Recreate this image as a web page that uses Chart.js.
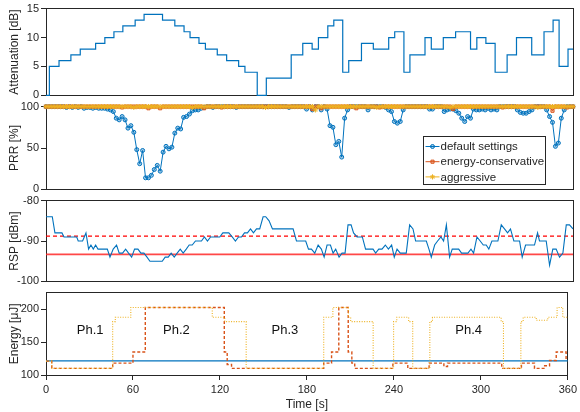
<!DOCTYPE html>
<html>
<head>
<meta charset="utf-8">
<script src="https://cdn.jsdelivr.net/npm/chart.js@4.4.1/dist/chart.umd.min.js"></script>
<style>
  html, body { margin: 0; padding: 0; background: #fff; }
  #wrap { position: relative; width: 580px; height: 412px; overflow: hidden; }
  #wrap canvas { position: absolute; left: 0; }
</style>
</head>
<body>
<div id="wrap">
  <canvas id="cAtt" width="580" height="104" style="top:0px"></canvas>
  <canvas id="cPrr" width="580" height="100" style="top:98px"></canvas>
  <canvas id="cRsp" width="580" height="98" style="top:192px"></canvas>
  <canvas id="cEng" width="580" height="128" style="top:284px"></canvas>
</div>
<script>
// ---------- attenuation schedule (time of change [s], level [dB]) ----------
const attTime  = [0, 2.3, 8.9, 17, 23.4, 33.9, 40.2, 46.4, 52.5, 60.9, 67, 79.6, 88, 94.3, 98.4, 104.5, 108.9, 117, 123.4, 131.6, 135.9, 144.3, 150.5, 167.5, 175.4, 181.8, 186.1, 192.5, 196.6, 202.7, 206.8, 215.5, 223.6, 234.1, 238.2, 244.5, 248.6, 258.9, 263.2, 271.4, 279.8, 290, 294.3, 300.5, 306.8, 315, 321.4, 331.8, 340.2, 346.4, 350.5, 356.6, 360];
const attValue = [0, 5, 6, 7, 8, 9, 10, 11, 12, 13, 14, 13, 12, 11, 10, 9, 8, 7, 6, 5, 4, 0, 3, 7, 9, 8, 10, 12, 13, 4, 6, 9, 8, 10, 11, 4, 7, 10, 8, 10, 11, 8, 10, 9, 4, 7, 10, 7, 11, 13, 5, 8, 8];

// ---------- packet reception ratio [%] ----------
const prrTime = [0,2,4,6,8,10,12,14,16,18,20,22,24,26,28,30,32,34,36,38,40,42,44,46,48,50,52,54,56,58,60,62,64,66,68,70,72,74,76,78,80,82,84,86,88,90,92,94,96,98,100,102,104,106,108,110,112,114,116,118,120,122,124,126,128,130,132,134,136,138,140,142,144,146,148,150,152,154,156,158,160,162,164,166,168,170,172,174,176,178,180,182,184,186,188,190,192,194,196,198,200,202,204,206,208,210,212,214,216,218,220,222,224,226,228,230,232,234,236,238,240,242,244,246,248,250,252,254,256,258,260,262,264,266,268,270,272,274,276,278,280,282,284,286,288,290,292,294,296,298,300,302,304,306,308,310,312,314,316,318,320,322,324,326,328,330,332,334,336,338,340,342,344,346,348,350,352,354,356,358,360];
const prrDefault = [
  100,100,100,100,100,100,100,99,100,99,
  100,99,100,98,99,99,98,99,98,98,
  98,97,96,94,86,84,88,84,74,77,
  69,48,31,47,14,14,17,24,29,22,
  45,52,49,51,68,74,73,87,88,91,
  95,96,96,98,99,100,100,99,100,100,
  100,100,100,100,100,99,100,100,100,100,
  100,100,100,100,100,100,100,100,100,100,
  100,100,100,99,100,100,100,100,100,97,
  100,96,100,100,96,100,97,77,75,54,
  58,39,86,96,100,100,100,100,100,100,
  96,100,100,100,100,100,99,96,94,82,
  80,82,96,100,100,100,100,100,100,100,
  100,97,97,100,100,100,94,96,97,97,
  95,92,86,82,88,86,97,96,96,97,
  96,98,96,97,96,100,100,100,100,100,
  100,96,93,92,92,94,96,100,100,100,
  100,96,88,81,52,56,86,96,100,100,
  100];
const prrConservative = [
  100,100,100,100,100,100,100,100,100,100,
  100,100,100,100,100,100,100,100,100,100,
  100,100,100,100,100,100,99,100,100,100,
  100,100,100,100,100,98,100,100,100,98,
  100,100,100,100,100,100,100,100,100,100,
  100,100,100,100,98,100,100,100,100,100,
  99,100,100,100,100,100,100,100,100,100,
  100,100,100,100,100,100,100,100,100,100,
  100,100,100,100,100,100,100,100,100,100,
  100,97,100,100,98,100,100,100,100,100,
  100,100,100,100,100,100,98,100,100,100,
  100,100,100,100,99,100,100,100,100,100,
  100,100,100,100,100,100,100,100,100,100,
  100,100,100,100,100,100,100,100,100,97,
  100,100,100,100,100,100,100,100,100,100,
  100,100,100,100,100,100,99,100,100,100,
  100,100,100,100,100,100,100,100,100,100,
  100,100,100,95,100,100,100,100,99,100,
  100];
const prrAggressive = [
  100,100,100,100,100,100,100,100,100,100,
  100,100,100,100,100,100,100,100,100,100,
  100,100,100,100,100,100,100,100,100,100,
  99,100,100,100,100,100,100,100,100,100,
  100,100,100,100,100,100,100,100,100,100,
  99,100,100,100,100,100,100,100,100,100,
  100,100,100,100,100,100,100,100,100,100,
  100,100,100,100,100,99,100,100,100,100,
  100,100,100,100,100,100,100,100,100,100,
  100,100,96,100,100,100,100,100,100,100,
  100,100,100,100,100,100,100,100,100,100,
  100,100,100,99,100,100,100,100,100,100,
  100,100,100,100,100,100,100,100,100,100,
  100,100,100,100,100,100,100,100,99,100,
  100,100,100,100,100,100,100,100,100,100,
  100,100,100,100,100,100,100,100,100,100,
  100,100,100,100,100,100,100,100,99,100,
  100,100,100,100,100,100,100,100,100,100,
  100];

// ---------- received signal power [dBm] ----------
const rspTime  = [0, 4.3, 6.1, 10.9, 12.3, 21, 22, 25, 27.3, 29.1, 30.7, 32.3, 33.9, 35.5, 41.9, 43.7, 45.9, 48.2, 50, 52.3, 54.4, 56.4, 58.5, 60.5, 62.8, 64.8, 66.9, 69, 71, 79.4, 81.4, 83.5, 85.5, 87.6, 89.6, 91.7, 93.7, 95.8, 97.8, 99.9, 102.1, 106.2, 108.2, 110.3, 112.4, 118.7, 120.8, 124.9, 127.2, 129.4, 131.5, 133.5, 135.6, 137.6, 139.7, 141.7, 143.8, 146, 148.3, 150.1, 152.4, 154.7, 168.8, 171.1, 177.4, 179.3, 181.3, 183.6, 185.9, 188.1, 190, 192, 194.3, 196.1, 197.9, 200.2, 202.2, 204.3, 206.3, 208.4, 210.1, 212.5, 216.1, 218.3, 223.4, 225.2, 227.3, 229.5, 231.8, 233.9, 236.1, 237.9, 239.8, 242, 246.1, 248.4, 250.7, 252.5, 259.8, 261.6, 263.2, 265.5, 267.5, 269.8, 271.6, 273.5, 275.7, 277.5, 281.9, 283.9, 285.9, 288.2, 290.3, 292.1, 294.4, 296.6, 298.7, 300.7, 302.5, 304.6, 308.7, 311, 313.2, 315.3, 317.3, 319.6, 323.5, 325.3, 327.6, 333.7, 335.8, 337.1, 341.7, 344, 346.2, 348.5, 350.8, 353.1, 355.4, 357.6, 360];
const rspValue = [-84, -84, -88, -88, -89, -89, -90, -90, -88, -92, -91, -92, -91, -92, -92, -94, -92, -91, -93, -93, -92, -93, -94, -92, -92, -93, -93, -94, -95, -95, -94, -94, -93, -94, -93, -92, -93, -92, -91, -91, -90, -90, -89, -90, -89, -89, -88, -88, -89, -90, -89, -89, -88, -88, -87, -88, -87, -87, -84, -84, -85, -87, -87, -90, -90, -92, -92, -93, -91, -92, -94, -91, -91, -93, -92, -94, -93, -93, -86, -86, -88, -89, -89, -92, -92, -93, -92, -92, -91, -92, -91, -94, -92, -93, -93, -86, -87, -90, -90, -92, -94, -91, -90, -89, -90, -86, -94, -92, -92, -93, -93, -93, -92, -93, -89, -90, -91, -91, -92, -90, -90, -86, -87, -88, -87, -90, -90, -94, -91, -91, -88, -90, -90, -96, -92, -92, -94, -93, -86, -86, -87];
const rspUpper = -88.8;   // dashed reference level
const rspLower = -93.3;   // solid reference level

// ---------- energy per packet [µJ] ----------
const engDefaultTime  = [0, 360];
const engDefaultValue = [121.5, 121.5];
const engConsTime  = [0, 4, 46, 60, 68.5, 123, 125, 128, 191.6, 197, 202, 208.5, 211, 213, 239.3, 249.6, 264.3, 274.5, 277, 314.4, 328, 337, 344, 347.4, 352, 358.8, 360];
const engConsValue = [121, 110, 118, 135, 202.5, 135, 116, 110, 118, 135, 202.5, 135, 118, 110, 118, 110, 118, 113, 118, 110, 118, 110, 114, 122, 135, 124, 124];
const engAggrTime  = [0, 4, 46, 47.8, 58.5, 114.7, 123.3, 138.1, 191.6, 197.9, 208.6, 210.2, 225.7, 239.8, 242, 250.2, 253, 264.8, 266.6, 314, 315.6, 327.6, 329.2, 338.2, 346.2, 352.6, 356.5, 360];
const engAggrValue = [121, 110, 181, 187.5, 202.5, 187.5, 181, 110, 187.5, 202.5, 187.5, 181, 110, 181, 187.5, 181, 110, 181, 187.5, 181, 110, 181, 187.5, 183, 187.5, 202.5, 187.5, 187.5];

// phase annotations: [text, time, energy]
const phaseLabels = [['Ph.1', 30.5, 168], ['Ph.2', 90, 168], ['Ph.3', 164.8, 168], ['Ph.4', 291.6, 168]];

// ---------- axis ticks ----------
const attTicks = [0, 5, 10, 15];
const prrTicks = [0, 50, 100];
const rspTicks = [-100, -90, -80];
const engTicks = [100, 150, 200];
const timeTicks = [0, 60, 120, 180, 240, 300, 360];

// ---------- styling ----------
const INK = '#262626';
const BLUE = '#0072BD';
const ORANGE = '#D95319';
const YELLOW = '#EDB120';
Chart.defaults.font.family = "'Liberation Sans', Arial, Helvetica, sans-serif";
Chart.defaults.color = INK;
Chart.defaults.animation = false;

const pts = (xs, ys) => xs.map((x, i) => ({ x: x, y: ys[i] }));

function alignPx(p) { return Math.round(p - 0.5) + 0.5; }

// axes box drawn beneath the data
const framePlugin = {
  id: 'frame',
  beforeDatasetsDraw(chart) {
    const a = chart.chartArea, ctx = chart.ctx;
    ctx.save();
    ctx.strokeStyle = INK;
    ctx.lineWidth = 1;
    const l = alignPx(a.left), r = alignPx(a.right), t = alignPx(a.top), b = alignPx(a.bottom);
    ctx.strokeRect(l, t, r - l, b - t);
    ctx.restore();
  }
};

function yAxis(min, max, ticks, title) {
  return {
    type: 'linear', position: 'left', min: min, max: max,
    afterFit(s) { s.width = 46; },
    afterBuildTicks(s) { s.ticks = ticks.map(v => ({ value: v })); },
    border: { display: false },
    grid: { display: true, drawOnChartArea: false, drawTicks: true, tickLength: 5, color: INK, lineWidth: 1 },
    ticks: { font: { size: 11 }, color: INK, padding: 2 },
    title: { display: true, text: title, font: { size: 12 }, color: INK, padding: { top: 7, bottom: 0 } }
  };
}

function hiddenX() {
  return { type: 'linear', min: 0, max: 360, display: false };
}

function baseOptions(padTop, padBottom, yScale, xScale) {
  return {
    responsive: false,
    animation: false,
    layout: { padding: { left: 0, right: 7, top: padTop, bottom: padBottom } },
    plugins: { legend: { display: false }, tooltip: { enabled: false } },
    scales: { x: xScale, y: yScale },
    elements: { line: { tension: 0 } }
  };
}

// ---------- panel 1: attenuation ----------
new Chart(document.getElementById('cAtt'), {
  type: 'line',
  data: { datasets: [{
    data: pts(attTime, attValue), stepped: true, borderColor: BLUE, borderWidth: 1.2,
    pointRadius: 0, clip: false
  }]},
  options: baseOptions(7, 8, yAxis(0, 15, attTicks, 'Attenuation [dB]'), hiddenX()),
  plugins: [framePlugin]
});

// ---------- panel 2: PRR with legend ----------
const legendPlugin = {
  id: 'boxLegend',
  afterDraw(chart) {
    const a = chart.chartArea, ctx = chart.ctx;
    const w = 122, h = 48;
    const x0 = Math.round(a.right - 28 - w) + 0.5, y0 = Math.round(a.bottom - 5 - h) + 0.5;
    ctx.save();
    ctx.fillStyle = '#fff';
    ctx.fillRect(x0, y0, w, h);
    ctx.strokeStyle = INK;
    ctx.lineWidth = 1;
    ctx.strokeRect(x0, y0, w, h);
    ctx.font = "11.5px 'Liberation Sans', Arial, sans-serif";
    ctx.textBaseline = 'middle';
    ctx.textAlign = 'left';
    chart.data.datasets.forEach((ds, i) => {
      const cy = y0 + 10 + i * 15.2;
      ctx.strokeStyle = ds.borderColor;
      ctx.lineWidth = 1;
      ctx.beginPath();
      ctx.moveTo(x0 + 2, cy);
      ctx.lineTo(x0 + 16, cy);
      ctx.stroke();
      ctx.fillStyle = ds.pointBackgroundColor;
      ctx.strokeStyle = ds.borderColor;
      Chart.helpers.drawPoint(ctx, {
        pointStyle: ds.pointStyle, radius: ds.pointRadius, rotation: 0, borderWidth: 1
      }, x0 + 9, cy);
      ctx.fillStyle = INK;
      ctx.fillText(ds.label, x0 + 17, cy + 0.5);
    });
    ctx.restore();
  }
};

new Chart(document.getElementById('cPrr'), {
  type: 'line',
  data: { datasets: [
    { label: 'default settings', data: pts(prrTime, prrDefault), borderColor: BLUE, borderWidth: 1,
      pointStyle: 'circle', pointRadius: 2, pointBorderWidth: 1, pointBorderColor: BLUE,
      pointBackgroundColor: 'rgba(0,114,189,0.35)', order: 3, clip: false },
    { label: 'energy-conservative', data: pts(prrTime, prrConservative), borderColor: ORANGE, borderWidth: 1,
      pointStyle: 'rect', pointRadius: 2.2, pointBorderWidth: 1, pointBorderColor: ORANGE,
      pointBackgroundColor: 'rgba(217,83,25,0.35)', order: 2, clip: false },
    { label: 'aggressive', data: pts(prrTime, prrAggressive), borderColor: YELLOW, borderWidth: 1,
      pointStyle: 'star', pointRadius: 2.6, pointBorderWidth: 1, pointBorderColor: YELLOW,
      pointBackgroundColor: YELLOW, order: 1, clip: false }
  ]},
  options: baseOptions(8, 8, yAxis(0, 100, prrTicks, 'PRR [%]'), hiddenX()),
  plugins: [framePlugin, legendPlugin]
});

// ---------- panel 3: RSP ----------
new Chart(document.getElementById('cRsp'), {
  type: 'line',
  data: { datasets: [
    { data: pts(rspTime, rspValue), borderColor: BLUE, borderWidth: 1.1, pointRadius: 0, order: 1 },
    { data: pts([0, 360], [rspUpper, rspUpper]), borderColor: '#ff0000', borderWidth: 1.2,
      borderDash: [4, 3], pointRadius: 0, order: 2 },
    { data: pts([0, 360], [rspLower, rspLower]), borderColor: 'rgba(255,40,40,0.85)', borderWidth: 1.6,
      pointRadius: 0, order: 3 }
  ]},
  options: baseOptions(8, 8, yAxis(-100, -80, rspTicks, 'RSP [dBm]'), hiddenX()),
  plugins: [framePlugin]
});

// ---------- panel 4: energy ----------
const phasePlugin = {
  id: 'phases',
  afterDatasetsDraw(chart) {
    const ctx = chart.ctx, xs = chart.scales.x, ys = chart.scales.y;
    ctx.save();
    ctx.font = "13px 'Liberation Sans', Arial, sans-serif";
    ctx.fillStyle = '#111';
    ctx.textAlign = 'center';
    ctx.textBaseline = 'middle';
    phaseLabels.forEach(([txt, t, v]) => {
      ctx.fillText(txt, xs.getPixelForValue(t), ys.getPixelForValue(v));
    });
    ctx.restore();
  }
};

const engX = {
  type: 'linear', position: 'bottom', min: 0, max: 360,
  afterFit(s) { s.height = 37; },
  afterBuildTicks(s) { s.ticks = timeTicks.map(v => ({ value: v })); },
  border: { display: false },
  grid: { display: true, drawOnChartArea: false, drawTicks: true, tickLength: 5, color: INK, lineWidth: 1 },
  ticks: { font: { size: 11 }, color: INK, padding: 3, maxRotation: 0 },
  title: { display: true, text: 'Time [s]', font: { size: 12 }, color: INK, padding: { top: 0, bottom: 0 } }
};

new Chart(document.getElementById('cEng'), {
  type: 'line',
  data: { datasets: [
    { data: pts(engDefaultTime, engDefaultValue), stepped: true, borderColor: BLUE, borderWidth: 1.3, pointRadius: 0, order: 3 },
    { data: pts(engConsTime, engConsValue), stepped: true, borderColor: ORANGE, borderWidth: 1.4,
      borderDash: [3, 2], pointRadius: 0, order: 2 },
    { data: pts(engAggrTime, engAggrValue), stepped: true, borderColor: YELLOW, borderWidth: 1.1,
      borderDash: [1, 1.5], pointRadius: 0, order: 1 }
  ]},
  options: baseOptions(8, 0, yAxis(100, 225, engTicks, 'Energy [μJ]'), engX),
  plugins: [framePlugin, phasePlugin]
});
</script>
</body>
</html>
